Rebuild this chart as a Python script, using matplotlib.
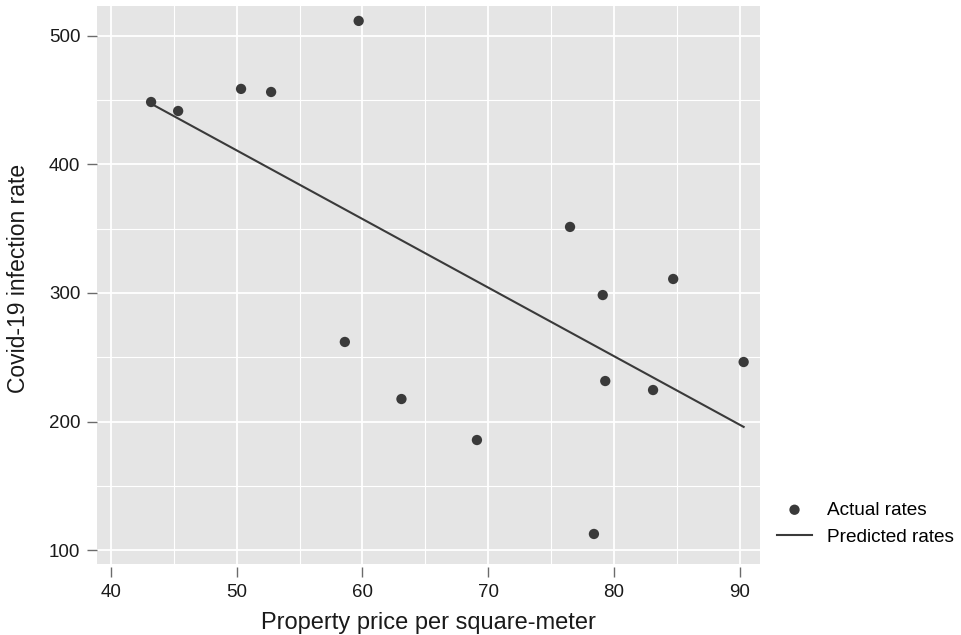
import matplotlib
matplotlib.use('Agg')
import matplotlib.pyplot as plt
from matplotlib.patches import Rectangle
from matplotlib.ticker import MultipleLocator
import numpy as np

# property price per square-meter and covid-19 infection rate
price = [43.2, 45.35, 50.35, 52.74, 59.7, 58.6, 63.1, 69.1,
         76.5, 79.1, 79.3, 83.1, 84.7, 90.3, 78.4]
rate = [448.6, 441.6, 458.8, 456.4, 511.7, 261.9, 217.5, 185.6,
        351.4, 298.4, 231.5, 224.5, 310.9, 246.3, 112.5]

xticks = [40, 50, 60, 70, 80, 90]
yticks = [100, 200, 300, 400, 500]

plt.rcParams['font.family'] = ['Liberation Sans', 'DejaVu Sans']

fig = plt.figure(figsize=(9.62, 6.35), dpi=100)
W, H = 962, 635
# axes frame slightly below the grey panel so x ticks sit apart from it
left, right, top, bottom = 97, 760, 6, 567
ax = fig.add_axes([left / W, 1 - bottom / H, (right - left) / W, (bottom - top) / H])
ax.set_facecolor('none')
panel_frac = (bottom - 563.5) / (bottom - top)
ax.add_patch(Rectangle((0, panel_frac), 1, 1 - panel_frac, transform=ax.transAxes,
                       facecolor='#e5e5e5', edgecolor='none', zorder=0))

ax.set_xlim(38.9, 91.6)
ax.set_ylim(86.8, 523.3)

ax.set_xticks(xticks)
ax.set_yticks(yticks)
ax.xaxis.set_minor_locator(MultipleLocator(5))
ax.yaxis.set_minor_locator(MultipleLocator(50))
ax.grid(which='major', color='white', linewidth=1.3, zorder=1)
ax.grid(which='minor', color='white', linewidth=0.8, zorder=1)
ax.set_axisbelow(True)

for s in ax.spines.values():
    s.set_visible(False)
ax.tick_params(which='major', direction='out', length=7, width=1, color='#6b6b6b',
               labelsize=13.5, labelcolor='#1a1a1a', pad=5)
ax.tick_params(which='minor', length=0)

# fitted values
b, a = np.polyfit(price, rate, 1)
xs = np.array([min(price), max(price)])
ax.plot(xs, a + b * xs, color='#3a3a3a', linewidth=1.5, label='Predicted rates', zorder=3)
ax.scatter(price, rate, s=55, color='#3a3a3a', edgecolors='none', label='Actual rates', zorder=4)

ax.set_xlabel('Property price per square-meter', fontsize=17, color='#1a1a1a', labelpad=8)
ax.set_ylabel('Covid-19 infection rate', fontsize=16.5, color='#1a1a1a')
ax.yaxis.set_label_coords(-0.101, 0.515)

handles, labels = ax.get_legend_handles_labels()
leg = ax.legend(handles[::-1], labels[::-1], loc='center left',
                bbox_to_anchor=(777 / W, 1 - 523.5 / H), bbox_transform=fig.transFigure,
                frameon=False, fontsize=13.7, handlelength=1.84, handletextpad=0.8,
                labelspacing=0.5, borderpad=0, borderaxespad=0)

fig.savefig('out.png', dpi=100)
